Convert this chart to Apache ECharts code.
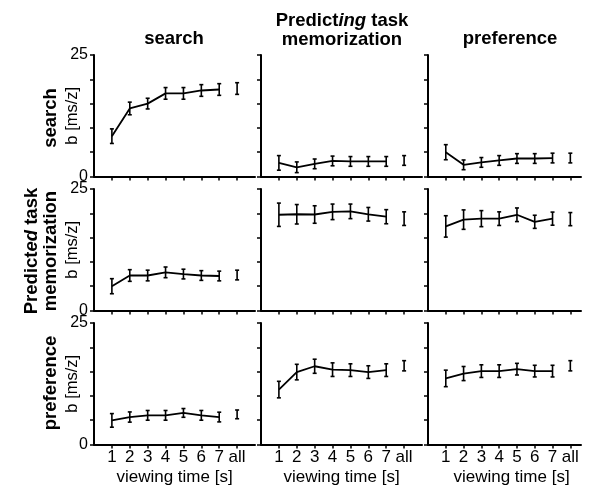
<!DOCTYPE html>
<html>
<head>
<meta charset="utf-8">
<script src="https://cdn.jsdelivr.net/npm/echarts@6/dist/echarts.min.js"></script>
<style>
  html, body { margin: 0; padding: 0; background: #fff; }
  #charts { width: 591px; height: 485px; }
</style>
</head>
<body>
<div id="charts"></div>
<script>
// x positions: 1..7 seconds plus the pooled "all" point
var xLabels = ['1', '2', '3', '4', '5', '6', '7', 'all'];
var yTickLabels = [0, 25];

// row = predicted task, column = predicting task
// row 1: search
var search_search = [8.3, 14.0, 15.0, 17.1, 17.1, 17.7, 17.9, 18.1];
var search_search_err = [1.5, 1.3, 1.1, 1.2, 1.2, 1.2, 1.2, 1.2];
var search_memo = [2.8, 1.9, 2.6, 3.2, 3.1, 3.1, 3.1, 3.3];
var search_memo_err = [1.5, 1.1, 1.0, 1.0, 1.0, 1.0, 1.0, 1.0];
var search_pref = [5.0, 2.4, 2.9, 3.3, 3.7, 3.7, 3.8, 3.8];
var search_pref_err = [1.55, 1.0, 1.0, 1.0, 1.0, 1.0, 1.0, 1.0];
// row 2: memorization
var memo_search = [5.0, 7.2, 7.2, 7.85, 7.5, 7.2, 7.1, 7.3];
var memo_search_err = [1.55, 1.2, 1.1, 1.1, 1.0, 1.0, 1.0, 1.0];
var memo_memo = [19.7, 19.8, 19.75, 20.3, 20.4, 19.8, 19.3, 18.9];
var memo_memo_err = [2.4, 2.0, 1.8, 1.6, 1.5, 1.4, 1.45, 1.4];
var memo_pref = [17.3, 18.7, 18.9, 18.9, 19.7, 18.25, 18.9, 18.8];
var memo_pref_err = [2.2, 2.0, 1.65, 1.4, 1.4, 1.35, 1.35, 1.35];
// row 3: preference
var pref_search = [4.96, 5.65, 6.0, 6.0, 6.5, 6.0, 5.65, 6.2];
var pref_search_err = [1.4, 1.05, 1.0, 1.0, 0.9, 1.0, 1.0, 0.9];
var pref_memo = [11.3, 14.9, 16.1, 15.4, 15.3, 14.9, 15.3, 16.2];
var pref_memo_err = [1.7, 1.6, 1.45, 1.4, 1.3, 1.3, 1.3, 1.05];
var pref_pref = [13.6, 14.6, 15.1, 15.1, 15.5, 15.1, 15.1, 16.2];
var pref_pref_err = [1.7, 1.45, 1.3, 1.3, 1.2, 1.2, 1.2, 1.05];

var panels = [
  [search_search, search_search_err], [search_memo, search_memo_err], [search_pref, search_pref_err],
  [memo_search, memo_search_err], [memo_memo, memo_memo_err], [memo_pref, memo_pref_err],
  [pref_search, pref_search_err], [pref_memo, pref_memo_err], [pref_pref, pref_pref_err]
];

var FONT = 'Liberation Sans';
var rowTops = [55, 189, 323];
var colLefts = [94, 261, 428];
var colWidths = [161, 161, 153];
var colMax = [9, 9, 8.6];

var myChart = echarts.init(document.getElementById('charts'), null, {width: 591, height: 485});

var grids = [], xAxes = [], yAxes = [], series = [];
for (var r = 0; r < 3; r++) {
  for (var c = 0; c < 3; c++) {
    var i = r * 3 + c;
    grids.push({left: colLefts[c], top: rowTops[r], width: colWidths[c], height: 121.5, outerBoundsMode: 'none'});
    xAxes.push({
      type: 'value', gridIndex: i, min: 0, max: colMax[c],
      splitLine: {show: false},
      axisLine: {show: true, onZero: false, lineStyle: {color: '#000', width: 2}},
      axisTick: {show: true, customValues: [1, 2, 3, 4, 5, 6, 7, 8], length: 4, lineStyle: {color: '#000', width: 1.5}},
      axisLabel: {
        show: r === 2, customValues: [1, 2, 3, 4, 5, 6, 7, 8], margin: 4,
        color: '#000', fontFamily: FONT, fontSize: 17,
        formatter: function (v) { return xLabels[Math.round(v) - 1]; }
      },
      name: r === 2 ? 'viewing time [s]' : '',
      nameLocation: 'middle', nameGap: 24,
      nameTextStyle: {color: '#000', fontFamily: FONT, fontSize: 17, padding: c === 2 ? [0, 0, 0, 14] : 0}
    });
    yAxes.push({
      type: 'value', gridIndex: i, min: 0, max: 25, interval: 5,
      splitLine: {show: false},
      axisLine: {show: true, lineStyle: {color: '#000', width: 2}},
      axisTick: {show: true, length: 4, lineStyle: {color: '#000', width: 1.5}},
      axisLabel: {
        show: c === 0, customValues: yTickLabels, margin: 6,
        color: '#000', fontFamily: FONT, fontSize: 16
      },
      name: c === 0 ? 'b [ms/z]' : '',
      nameLocation: 'middle', nameGap: 13, nameMoveOverlap: false,
      nameTextStyle: {color: '#000', fontFamily: FONT, fontSize: 16.5}
    });
    var means = panels[i][0], errs = panels[i][1];
    var lineData = [], errData = [];
    for (var k = 0; k < 8; k++) {
      if (k < 7) lineData.push([k + 1, means[k]]);
      errData.push([k + 1, means[k], errs[k]]);
    }
    series.push({
      type: 'line', xAxisIndex: i, yAxisIndex: i, data: lineData,
      showSymbol: false, silent: true,
      lineStyle: {color: '#000', width: 1.8}
    });
    series.push({
      type: 'custom', xAxisIndex: i, yAxisIndex: i, data: errData, silent: true,
      renderItem: function (params, api) {
        var x = api.value(0), m = api.value(1), e = api.value(2);
        var hi = api.coord([x, m + e]);
        var lo = api.coord([x, m - e]);
        var st = {stroke: '#000', lineWidth: 1.6};
        return {
          type: 'group',
          children: [
            {type: 'line', shape: {x1: hi[0], y1: hi[1], x2: lo[0], y2: lo[1]}, style: st},
            {type: 'line', shape: {x1: hi[0] - 2, y1: hi[1], x2: hi[0] + 2, y2: hi[1]}, style: st},
            {type: 'line', shape: {x1: lo[0] - 2, y1: lo[1], x2: lo[0] + 2, y2: lo[1]}, style: st}
          ]
        };
      }
    });
  }
}

var bold = {fontFamily: FONT, fontWeight: 'bold', fontSize: 18.5, color: '#000', lineHeight: 19};
var boldItalic = {fontFamily: FONT, fontWeight: 'bold', fontStyle: 'italic', fontSize: 18.5, color: '#000', lineHeight: 19};

function rowLabel(x, y, text) {
  return {
    type: 'text', x: x, y: y, rotation: Math.PI / 2,
    style: {text: text, align: 'center', verticalAlign: 'middle', rich: {b: bold, i: boldItalic}}
  };
}
function colLabel(x, y, text) {
  return {
    type: 'text', x: x, y: y,
    style: {text: text, align: 'center', verticalAlign: 'middle', rich: {b: bold, i: boldItalic}}
  };
}

var option = {
  animation: false,
  grid: grids,
  xAxis: xAxes,
  yAxis: yAxes,
  series: series,
  graphic: [
    colLabel(174, 39, '{b|search}'),
    colLabel(342, 30, '{b|Predict}{i|ing}{b| task}\n{b|memorization}'),
    colLabel(510, 39, '{b|preference}'),
    rowLabel(51, 118, '{b|search}'),
    rowLabel(41, 251, '{b|Predict}{i|ed}{b| task}\n{b|memorization}'),
    rowLabel(51, 383, '{b|preference}')
  ]
};

myChart.setOption(option);
</script>
</body>
</html>
